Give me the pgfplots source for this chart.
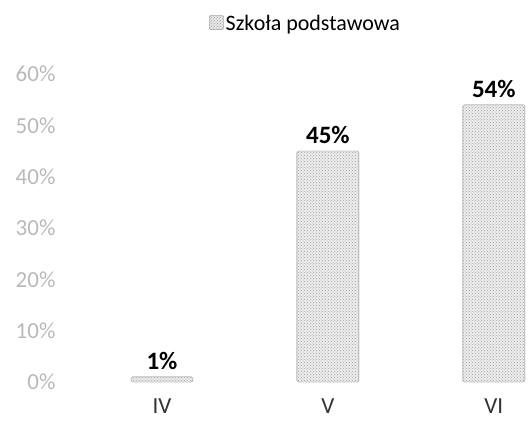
\documentclass[border=0pt]{standalone}
\usepackage{fontspec}
\setmainfont{Carlito}
\usepackage{pgfplots}
\pgfplotsset{compat=1.18}
\usetikzlibrary{patterns}

\begin{document}
\begin{tikzpicture}[font=\fontsize{23}{27}\selectfont]
	\begin{axis}[
		name=ax,
		scale only axis,
		width=453pt,
		height=308pt,
		ybar,
		bar width=62pt,
		xmin=-0.5, xmax=2.23,
		ymin=0, ymax=60,
		xtick=data,
		xticklabels={IV, V, VI},
		xticklabel style={yshift=-9pt, text=black!80},
		ytick={0,10,...,60},
		yticklabel={\pgfmathprintnumber{\tick}\%},
		yticklabel style={text=gray!55, xshift=-20pt},
		/pgf/number format/assume math mode=true,
		axis line style={draw=none},
		major tick style={draw=none},
		clip=false,
		legend style={at={(0.5,1)}, anchor=south, yshift=38pt, draw=none,
			font=\fontsize{22}{26}\selectfont},
		legend image code/.code={
			\draw[draw=gray!60, fill=gray!15, postaction={pattern=crosshatch dots, pattern color=gray!70}]
			(0cm,-0.22cm) rectangle (0.5cm,0.28cm);},
		nodes near coords={\textbf{\pgfmathprintnumber{\pgfplotspointmeta}\%}},
		nodes near coords style={text=black, yshift=4pt, font=\fontsize{25}{29}\selectfont},
	]
		\addplot[draw=gray!60, fill=gray!15, rounded corners=1.5pt,
			postaction={pattern=crosshatch dots, pattern color=gray!70}]
			coordinates {(0,1) (1,45) (2,54)};
		\addlegendentry{Szkoła podstawowa}
	\end{axis}
	\pgfresetboundingbox
	\path[use as bounding box] (ax.south west) ++(-79pt,-42pt) rectangle ++(532pt,424pt);
\end{tikzpicture}
\end{document}
